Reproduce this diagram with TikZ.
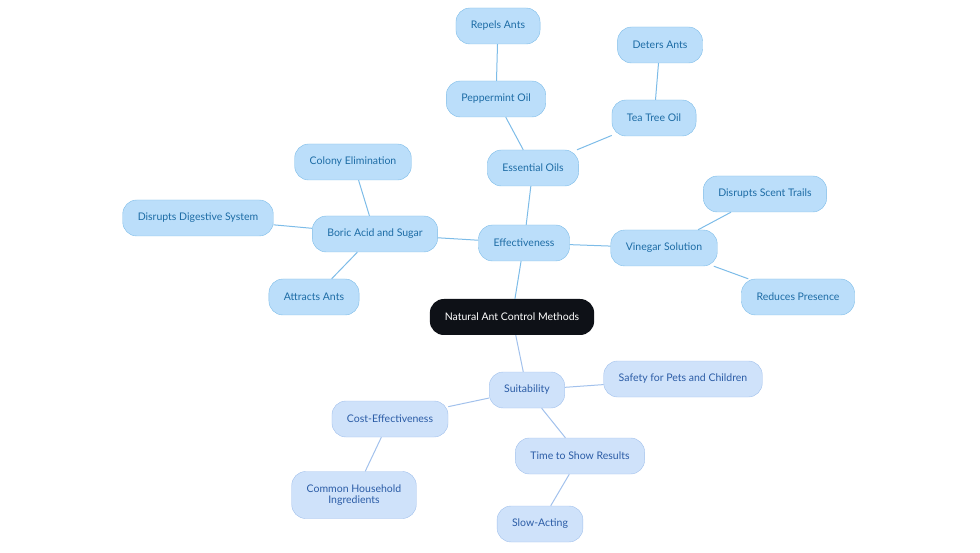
\documentclass[tikz,border=0pt]{standalone}
\usepackage{fontspec}
\setmainfont{Lato}
\definecolor{rootfill}{HTML}{0E1117}
\definecolor{effill}{HTML}{BBDEFA}
\definecolor{efline}{HTML}{7DBCE8}
\definecolor{eftext}{HTML}{1D6CA5}
\definecolor{sufill}{HTML}{CFE2FA}
\definecolor{suline}{HTML}{A2C1EC}
\definecolor{sutext}{HTML}{2B5CA6}
\begin{document}
\begin{tikzpicture}[x=1pt,y=-1pt,
	topic/.style={rounded corners=14pt, minimum height=36pt, inner xsep=15pt, font=\fontsize{10.5}{11.5}\selectfont},
	rootbox/.style={topic, fill=rootfill, text=white, minimum width=163pt},
	efbox/.style={topic, fill=effill, draw=efline, text=eftext},
	subox/.style={topic, fill=sufill, draw=suline, text=sutext},
	eflink/.style={draw=efline, line width=1pt},
	sulink/.style={draw=suline, line width=1pt}]
	\useasboundingbox (0,0) rectangle (980,553);
	% centre and first level
	\node [rootbox] (root) at (512,317) {Natural Ant Control Methods};
	\node [efbox] (eff) at (524,243) {Effectiveness};
	\node [subox] (suit) at (527,390) {Suitability};
	% effectiveness branch
	\node [efbox] (oils) at (533,168) {Essential Oils};
	\node [efbox] (mint) at (496,99) {Peppermint Oil};
	\node [efbox] (repel) at (498,26) {Repels Ants};
	\node [efbox] (tea) at (654,118) {Tea Tree Oil};
	\node [efbox] (deter) at (660,45) {Deters Ants};
	\node [efbox] (vinegar) at (664,248) {Vinegar Solution};
	\node [efbox] (trails) at (765,194) {Disrupts Scent Trails};
	\node [efbox] (reduce) at (798,297) {Reduces Presence};
	\node [efbox] (boric) at (375,234) {Boric Acid and Sugar};
	\node [efbox] (colony) at (353,162) {Colony Elimination};
	\node [efbox] (digest) at (198,218) {Disrupts Digestive System};
	\node [efbox] (attract) at (314,297) {Attracts Ants};
	% suitability branch
	\node [subox] (safety) at (683,379) {Safety for Pets and Children};
	\node [subox] (cost) at (390,419) {Cost-Effectiveness};
	\node [subox, align=center, minimum height=47pt] (house) at (354,495) {Common Household\\Ingredients};
	\node [subox] (time) at (580,456) {Time to Show Results};
	\node [subox] (slow) at (540,524) {Slow-Acting};
	% links
	\draw [eflink] (root) -- (eff);
	\foreach \a/\b in {eff/oils, oils/mint, mint/repel, oils/tea, tea/deter, eff/vinegar, vinegar/trails, vinegar/reduce, eff/boric, boric/colony, boric/digest, boric/attract} {
		\draw [eflink] (\a) -- (\b);
	}
	\foreach \a/\b in {root/suit, suit/safety, suit/cost, cost/house, suit/time, time/slow} {
		\draw [sulink] (\a) -- (\b);
	}
\end{tikzpicture}
\end{document}
